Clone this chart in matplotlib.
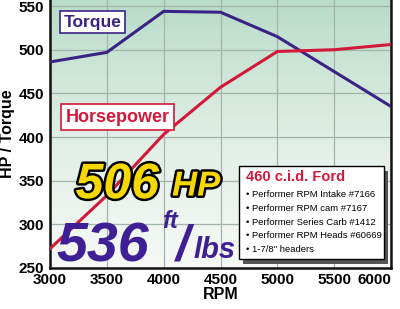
import numpy as np
import matplotlib
matplotlib.use("Agg")
from matplotlib import pyplot as plt
from matplotlib import patheffects as pe
from matplotlib.colors import LinearSegmentedColormap

# donnees
rpm = [3000, 3500, 4000, 4500, 5000, 5500, 6000]
torque = [486, 497, 544, 543, 515, 475, 435]
horsepower = [272, 333, 403, 457, 498, 500, 506]
x_ticks = [3000, 3500, 4000, 4500, 5000, 5500, 6000]
y_ticks = [250, 300, 350, 400, 450, 500, 550]
specs_title = "460 c.i.d. Ford"
specs = ["Performer RPM Intake #7166",
         "Performer RPM cam #7167",
         "Performer Series Carb #1412",
         "Performer RPM Heads #60669",
         "1-7/8\" headers"]

TORQUE_COLOR = "#3a2385"
HP_COLOR = "#d3193a"
BIG_PURPLE = "#3f1f95"
FONT = ["Liberation Sans", "DejaVu Sans"]

plt.rcParams['font.family'] = FONT

fig = plt.figure(figsize=(4.0, 3.09), dpi=100)
ax = fig.add_axes([0.125, 0.133, 0.8525, 0.867])

# fond en degrade vert -> blanc
cmap = LinearSegmentedColormap.from_list("bg", ["#f6f9f6", "#e0eee5", "#b8dcc8"])
grad = np.linspace(0, 1, 256).reshape(-1, 1)
ax.imshow(grad, cmap=cmap, aspect="auto", extent=[0, 1, 0, 1],
          transform=ax.transAxes, origin="lower", zorder=0)

ax.plot(rpm, torque, color=TORQUE_COLOR, lw=2.2, zorder=3, solid_joinstyle="miter")
ax.plot(rpm, horsepower, color=HP_COLOR, lw=2.2, zorder=3, solid_joinstyle="miter")

ax.set_xlim(3000, 6000)
ax.set_ylim(250, 557)
ax.set_xticks(x_ticks)
ax.set_yticks(y_ticks)
ax.grid(True, color="#a3b5aa", lw=0.9, zorder=1)
ax.set_axisbelow(True)
ax.tick_params(length=0, labelsize=11, pad=4)
for lab in ax.get_xticklabels() + ax.get_yticklabels():
    lab.set_fontweight("bold")
# le dernier label ne doit pas sortir de l'image
ax.get_xticklabels()[-1].set_horizontalalignment("right")

for side in ["left", "bottom", "right"]:
    ax.spines[side].set_linewidth(1.8)
    ax.spines[side].set_color("#111111")
ax.spines["top"].set_visible(False)

ax.set_xlabel("RPM", fontsize=11.5, fontweight="bold", labelpad=0)
ax.set_ylabel("HP / Torque", fontsize=11.5, fontweight="bold", labelpad=3)

# etiquettes des courbes
ax.text(0.04, 0.9, "Torque", transform=ax.transAxes, fontsize=12.5,
        fontweight="bold", color=TORQUE_COLOR, zorder=5,
        bbox=dict(boxstyle="square,pad=0.2", fc="white", ec=TORQUE_COLOR, lw=1.2))
ax.text(0.045, 0.545, "Horsepower", transform=ax.transAxes, fontsize=13,
        fontweight="bold", color=HP_COLOR, zorder=5,
        bbox=dict(boxstyle="square,pad=0.25", fc="white", ec=HP_COLOR, lw=1.2))

# gros chiffres
peak_hp = max(horsepower)
peak_tq = max(torque) - 8
outline = [pe.withStroke(linewidth=3.5, foreground="black")]
ax.text(0.075, 0.26, f"{peak_hp}", transform=ax.transAxes, fontsize=36,
        fontweight="bold", style="italic", color="#f5d800",
        path_effects=outline, zorder=6)
ax.text(0.358, 0.27, "HP", transform=ax.transAxes, fontsize=25,
        fontweight="bold", style="italic", color="#f5d800",
        path_effects=outline, zorder=6)
ax.text(0.02, 0.025, f"{peak_tq}", transform=ax.transAxes, fontsize=40,
        fontweight="bold", style="italic", color=BIG_PURPLE, zorder=6)
ax.text(0.33, 0.15, "ft", transform=ax.transAxes, fontsize=17,
        fontweight="bold", style="italic", color=BIG_PURPLE, zorder=6)
ax.text(0.37, 0.03, "/", transform=ax.transAxes, fontsize=36,
        fontweight="bold", style="italic", color=BIG_PURPLE, zorder=6)
ax.text(0.42, 0.037, "lbs", transform=ax.transAxes, fontsize=21,
        fontweight="bold", style="italic", color=BIG_PURPLE, zorder=6)

# encadre des specifications
box_x0, box_y0, box_w, box_h = 0.555, 0.035, 0.425, 0.345
ax.add_patch(plt.Rectangle((box_x0 + 0.012, box_y0 - 0.02), box_w, box_h,
                           transform=ax.transAxes, fc="#555555", ec="none", zorder=6))
ax.add_patch(plt.Rectangle((box_x0, box_y0), box_w, box_h, transform=ax.transAxes,
                           fc="white", ec="black", lw=1.0, zorder=7))
ax.text(box_x0 + 0.02, box_y0 + box_h - 0.015, specs_title, transform=ax.transAxes,
        fontsize=10.5, fontweight="bold", color=HP_COLOR, va="top", zorder=8)
for i, s in enumerate(specs):
    ax.text(box_x0 + 0.02, box_y0 + box_h - 0.09 - i * 0.051, "\u2022 " + s,
            transform=ax.transAxes, fontsize=6.8, color="black", va="top", zorder=8)

fig.savefig("out.png", dpi=100)
